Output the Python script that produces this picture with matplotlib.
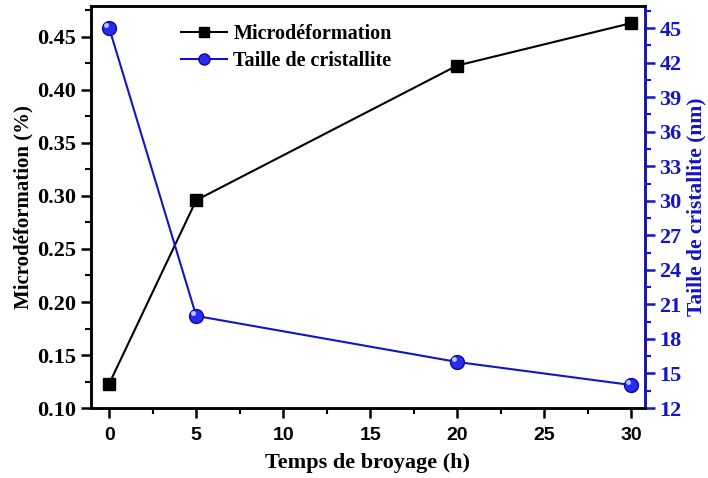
import matplotlib.pyplot as plt
import matplotlib.transforms as mtransforms
from matplotlib.ticker import MultipleLocator

# milling time (h) and measured values
temps = [0, 5, 20, 30]
microdef = [0.123, 0.296, 0.423, 0.463]
taille = [45.0, 20.0, 16.0, 14.0]

blue = '#1414c8'
serif = 'Liberation Serif'
sans = 'Liberation Sans'

fig = plt.figure(figsize=(7.08, 4.78), dpi=100)
ax1 = fig.add_axes([0.1285, 0.1464, 0.7825, 0.8406])
ax2 = ax1.twinx()

l1, = ax1.plot(temps, microdef, color='black', lw=1.5, marker='s', ms=9,
               mfc='black', mec='black', label='Microdéformation', zorder=3)
l2, = ax2.plot(temps, taille, color=blue, lw=1.5, marker='o', ms=10,
               mfc='#2a2af0', mec='#0a0a9a', label='Taille de cristallite', zorder=3)
# little shine on the spheres
shine = mtransforms.offset_copy(ax2.transData, fig=fig, x=-2, y=2, units='points')
ax2.plot(temps, taille, ls='none', marker='o', ms=3.5, mfc='#b8c8ff', mec='none',
         transform=shine, zorder=4)

ax1.set_xlim(-1.05, 30.8)
ax1.set_ylim(0.10, 0.479)
ax2.set_ylim(12, 46.9)

ax1.xaxis.set_major_locator(MultipleLocator(5))
ax1.xaxis.set_minor_locator(MultipleLocator(2.5))
ax1.yaxis.set_major_locator(MultipleLocator(0.05))
ax1.yaxis.set_minor_locator(MultipleLocator(0.025))
ax2.yaxis.set_major_locator(MultipleLocator(3))
ax2.yaxis.set_minor_locator(MultipleLocator(1.5))

for sp in ax1.spines.values():
    sp.set_linewidth(1.8)
for sp in ax2.spines.values():
    sp.set_linewidth(1.8)
ax2.spines['right'].set_color(blue)

ax1.tick_params(axis='both', which='major', direction='out', length=7, width=1.8)
ax1.tick_params(axis='both', which='minor', direction='out', length=4, width=1.5)
ax1.tick_params(axis='x', which='major', pad=7)
ax1.tick_params(top=False, which='both')
ax2.tick_params(axis='y', which='major', direction='out', length=7, width=1.8,
                colors=blue)
ax2.tick_params(axis='y', which='minor', direction='out', length=4, width=1.5,
                colors=blue)

ax1.set_yticklabels([f'{v:.2f}' for v in ax1.get_yticks()])
for lab in ax1.get_yticklabels():
    lab.set_fontfamily(serif)
    lab.set_fontweight('bold')
    lab.set_fontsize(16)
for lab in ax1.get_xticklabels():
    lab.set_fontfamily(sans)
    lab.set_fontweight('bold')
    lab.set_fontsize(14)
for lab in ax2.get_yticklabels():
    lab.set_fontfamily(serif)
    lab.set_fontweight('bold')
    lab.set_fontsize(16)
    lab.set_color(blue)

ax1.set_xlabel('Temps de broyage (h)', fontfamily=serif, fontweight='bold',
               fontsize=16, labelpad=6)
ax1.set_ylabel('Microdéformation (%)', fontfamily=serif, fontweight='bold',
               fontsize=15, labelpad=3)
ax2.set_ylabel('Taille de cristallite (nm)', fontfamily=serif, fontweight='bold',
               fontsize=15.5, color=blue, labelpad=3)

ax1.legend([l1, l2], [l1.get_label(), l2.get_label()], loc='upper left',
           bbox_to_anchor=(0.13, 1.0), frameon=False, handlelength=2.3,
           handletextpad=0.3, labelspacing=0.35, markerscale=0.8,
           prop={'family': serif, 'weight': 'bold', 'size': 14.5})

fig.savefig('out.png', dpi=100)
